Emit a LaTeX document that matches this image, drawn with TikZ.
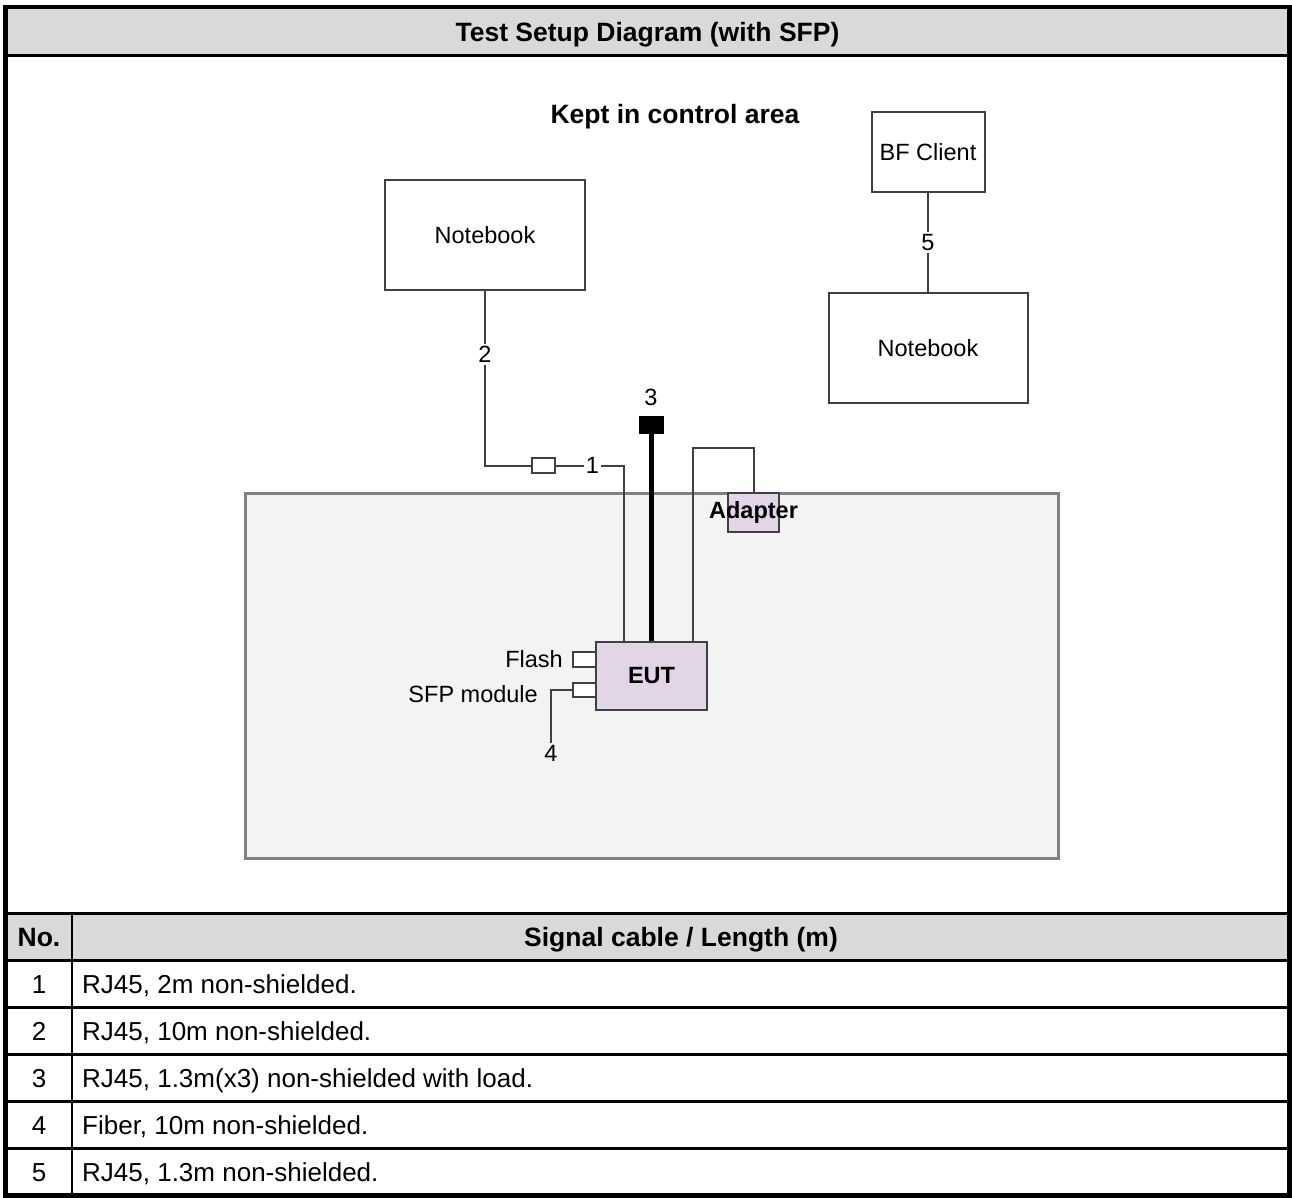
\documentclass[tikz,border=0pt]{standalone}
\usepackage{fontspec}
\setmainfont{Liberation Sans}
\definecolor{tsgray}{RGB}{64,64,64}
\definecolor{tsframe}{RGB}{128,128,128}
\definecolor{tsarea}{RGB}{243,243,243}
\definecolor{tshead}{RGB}{217,217,217}
\definecolor{tseut}{RGB}{225,213,231}
\usetikzlibrary{positioning,calc}
\tikzset{
    unit/.style={
        draw=tsgray, line width=2pt, fill=#1, inner sep=0pt,
        font=\fontsize{23.5}{28}\selectfont
    },
    unit/.default=white,
    port/.style={
        draw=tsgray, line width=2pt, fill=white, inner sep=0pt,
        minimum width=23pt, minimum height=15pt
    },
    cable/.style={draw=tsgray, line width=2pt},
    cablenum/.style={inner sep=2pt, font=\fontsize{23.5}{28}\selectfont},
    boldlbl/.style={inner sep=0pt, font=\fontsize{23.5}{28}\selectfont\bfseries},
    cell/.style={inner sep=0pt, font=\fontsize{26}{30}\selectfont},
    cellbold/.style={inner sep=0pt, font=\fontsize{26.5}{30}\selectfont\bfseries},
    rule/.style={line width=3pt}
}

\begin{document}
\begin{tikzpicture}[x=1pt, y=-1pt]
    \useasboundingbox (0,0) rectangle (1292,1197);
    \fill[tshead] (5,7) rectangle (1290,55.5);
    \fill[tshead] (5,913) rectangle (1290,960);
    \draw[rule] (5,55.5) -- (1290,55.5);
    \foreach \y in {913,960,1007,1054,1101,1148}
        \draw[rule] (5,\y) -- (1290,\y);
    \draw[line width=2pt] (72,913) -- (72,1196);
    \draw[line width=4.5pt] (5.5,7) rectangle (1289.5,1195.5);

    \node[cellbold, anchor=base] (title) at (647.5,41.5) {Test Setup Diagram (with SFP)};
    \node[cellbold, anchor=base] (hno) at (39,946) {No.};
    \node[cellbold, anchor=base] (hsig) at (681,946) {Signal cable / Length (m)};
    \foreach \n/\txt in {1/{RJ45, 2m non-shielded.}, 2/{RJ45, 10m non-shielded.},
                         3/{RJ45, 1.3m(x3) non-shielded with load.},
                         4/{Fiber, 10m non-shielded.}, 5/{RJ45, 1.3m non-shielded.}} {
        \node[cell, anchor=base] (no\n) at (39,{993+47*(\n-1)}) {\n};
        \node[cell, anchor=base west] (row\n) at (82,{993+47*(\n-1)}) {\txt};
    }

    \node[draw=tsframe, fill=tsarea, line width=3pt, inner sep=0pt,
          minimum width=813pt, minimum height=365pt] (area) at (651.5,675.5) {};
    \node[inner sep=0pt, font=\fontsize{26.5}{30}\selectfont\bfseries] (kept) at (675,117) {Kept in control area};

    \node[unit, minimum width=200pt, minimum height=110pt] (nb1) at (485,235) {Notebook};
    \node[unit, minimum width=113pt, minimum height=80pt] (bfc) at (928,152) {BF Client};
    \node[unit, minimum width=199pt, minimum height=110pt] (nb2) at (928,348) {Notebook};
    \node[unit=tseut, minimum width=111pt, minimum height=68pt, font=\fontsize{23.5}{28}\selectfont\bfseries] (eut) at (651.5,676) {EUT};
    \node[unit=tseut, minimum width=51pt, minimum height=39pt] (adp) at (753.5,512.5) {};
    \node[boldlbl] (adtxt) at (adp) {Adapter};

    \node[port] (p1) at (543.5,465.5) {};
    \node[draw=black, fill=black, inner sep=0pt, minimum width=24pt, minimum height=17pt] (load) at (651,424.5) {};
    \node[cablenum] (n3) at (651,397) {3};
    \node[port] (pfl) at (584.5,659.5) {};
    \node[port, minimum height=14pt] (psfp) at (584.5,690) {};
    \node[cablenum, anchor=east] (tfl) at (565,659) {Flash};
    \node[cablenum, anchor=east] (tsfp) at (540,694) {SFP module};
    \node[cablenum] (n4) at (551,753) {4};

    \coordinate (c1) at (624,465.5);
    \coordinate (c5) at (693,448);
    \draw[cable] (nb1.south) -- node[cablenum, fill=white, pos=0.365] (n2) {2} (nb1.south |- p1) -- (p1.west);
    \draw[cable] (p1.east) -- node[cablenum, fill=white, pos=0.536] (n1) {1} (c1) -- (c1 |- eut.north);
    \draw[black, line width=5pt] (load.south) -- (load.south |- eut.north);
    \draw[cable] (c5 |- eut.north) -- (c5) -| (adp.north);
    \draw[cable] (bfc.south) -- node[cablenum, fill=white] (n5) {5} (nb2.north);
    \draw[cable] (psfp.west) -| (n4.north);
\end{tikzpicture}
\end{document}
